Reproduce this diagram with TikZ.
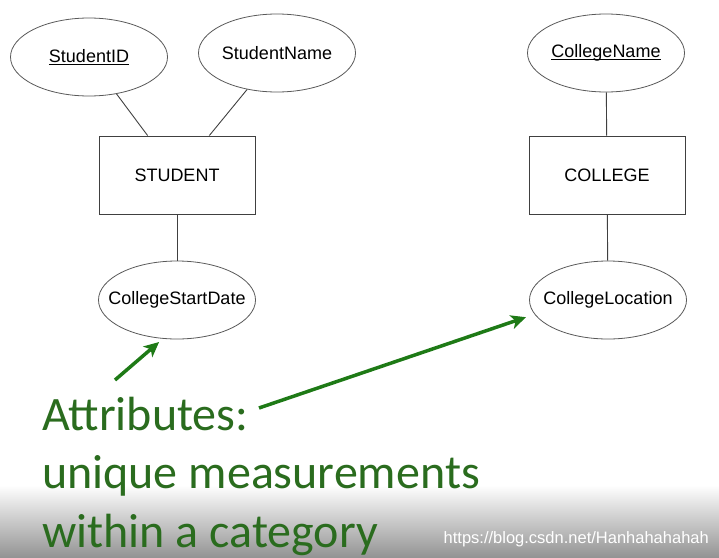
\documentclass[tikz,border=0pt]{standalone}
\usepackage{fontspec}
\setmainfont{Liberation Sans}
\newfontfamily\slidefont{Carlito}
\usetikzlibrary{arrows.meta,shapes.geometric}
\definecolor{slidegreen}{RGB}{42,108,30}
\definecolor{arrowgreen}{RGB}{30,122,22}
\newcommand\keyattr[1]{\setbox0\hbox{#1}\rlap{\rule[-2pt]{\wd0}{0.8pt}}\box0}
\tikzset{
	attr/.style = {ellipse, draw = black!65, line width = 0.8pt, minimum width = 157pt, minimum height = 78pt, inner xsep = -14pt, inner ysep = 0pt, font = \fontsize{18}{20}\selectfont},
	entity/.style = {rectangle, draw = black!75, line width = 0.9pt, minimum width = 156pt, minimum height = 78pt, font = \fontsize{18}{20}\selectfont},
	link/.style = {draw = black!75, line width = 0.9pt},
	pointer/.style = {arrowgreen, line width = 3.5pt, -{Stealth[length = 15pt, width = 14pt, inset = 4pt]}}
}
\begin{document}
\begin{tikzpicture}[x = 1pt, y = -1pt]
		\useasboundingbox (0,0) rectangle (719,557);
		\shade[top color = white, middle color = black!14, bottom color = black!42] (0,485) rectangle (719,557);
		% student side
		\node[attr] (sid) at (89,57) {\keyattr{StudentID}};
		\node[attr] (sname) at (277,53) {StudentName};
		\node[entity] (student) at (177,175) {STUDENT};
		\node[attr] (csd) at (177,300) {CollegeStartDate};
		% college side
		\node[attr] (cname) at (606,53) {\keyattr{CollegeName}};
		\node[entity] (college) at (607,175) {COLLEGE};
		\node[attr] (cloc) at (608,300) {CollegeLocation};
		\draw[link] (sid) -- (student);
		\draw[link] (sname) -- (student);
		\draw[link] (student) -- (csd);
		\draw[link] (cname) -- (college);
		\draw[link] (college) -- (cloc);
		% note and pointers
		\node[anchor = base west, inner sep = 0pt, align = left, text = slidegreen, font = \slidefont\fontsize{48}{58.5}\selectfont] (note) at (42,547) {Attributes:\\unique measurements\\within a category};
		\coordinate (tailA) at (115,380);
		\coordinate (tailB) at (259,408);
		\draw[pointer, shorten >= 5pt] (tailA) -- (csd.250);
		\draw[pointer, shorten >= 9pt] (tailB) -- (cloc.191);
		\node[anchor = base east, inner sep = 0pt, text = white, font = \fontsize{16.5}{18}\selectfont] (mark) at (709,543) {https://blog.csdn.net/Hanhahahahah};
	\end{tikzpicture}
\end{document}
